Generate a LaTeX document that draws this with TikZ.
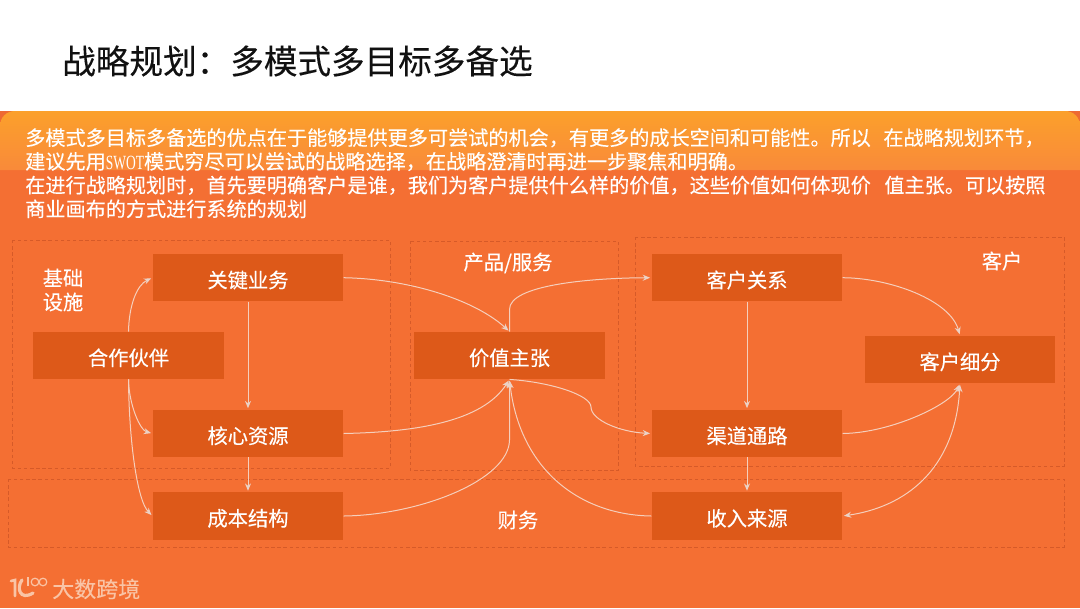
\documentclass[tikz,border=0pt]{standalone}
\usepackage{fontspec}
\setmainfont{Noto Sans CJK SC}[FakeBold=0.2]
\newfontfamily\swotfont[FakeStretch=0.67]{Liberation Serif}
\usetikzlibrary{arrows.meta}
\definecolor{bgorange}{HTML}{F46F33}
\definecolor{cornerorange}{HTML}{EE6A32}
\definecolor{topgrad}{HTML}{FBA02B}
\definecolor{botgrad}{HTML}{F98A3A}
\definecolor{boxfill}{HTML}{DD5919}
\definecolor{dashcol}{HTML}{D65A28}
\definecolor{linkcol}{HTML}{F5CFBC}
\definecolor{tipcol}{HTML}{EBD2C6}
\definecolor{logocol}{HTML}{F9C4A6}
\definecolor{titlecol}{HTML}{111111}
\tikzset{
  stagebox/.style={fill=boxfill,draw=none,minimum width=143pt,minimum height=35.5pt,inner sep=0pt,text=white,font=\fontsize{15.2}{18}\selectfont,text height=15pt,text depth=0pt},
  grouparea/.style={draw=dashcol,dashed,dash pattern=on 2.6pt off 2pt,line width=0.5pt,fill=none},
  labeltext/.style={text=white,font=\fontsize{15.2}{18}\selectfont,inner sep=0pt},
  link/.style={draw=linkcol,line width=0.75pt,shorten >=1pt,-{Stealth[length=5.5pt,width=4.5pt,color=tipcol]}},
  both/.style={draw=linkcol,line width=0.75pt,shorten >=1pt,shorten <=1pt,{Stealth[length=5.5pt,width=4.5pt,color=tipcol]}-{Stealth[length=5.5pt,width=4.5pt,color=tipcol]}},
}
\begin{document}
\begin{tikzpicture}[x=0.75pt,y=-0.75pt]
\useasboundingbox (0,0) rectangle (1080,608);
% backgrounds
\fill[white] (0,0) rectangle (1080,111);
\fill[bgorange] (0,111) rectangle (1080,608);
\fill[cornerorange] (0,111) rectangle (1080,170);
\shade[top color=topgrad,bottom color=botgrad] (0,170) [rounded corners=11pt] -- (0,111) -- (1080,111) [sharp corners] -- (1080,170) -- cycle;
% title
\node[anchor=west,inner sep=0pt,text=titlecol,font=\fontsize{25.2}{30}\selectfont] (title) at (62,61) {战略规划：多模式多目标多备选};
% intro
\node[anchor=north west,inner sep=0pt,text=white,align=left,font=\fontsize{15.1}{17.8}\selectfont] (intro) at (25,128) {多模式多目标多备选的优点在于能够提供更多可尝试的机会，有更多的成长空间和可能性。所以\hspace{0.4em} 在战略规划环节，\\建议先用{\swotfont SWOT}模式穷尽可以尝试的战略选择，在战略澄清时再进一步聚焦和明确。\\在进行战略规划时，首先要明确客户是谁，我们为客户提供什么样的价值，这些价值如何体现价\hspace{0.45em} 值主张。可以按照\\商业画布的方式进行系统的规划};
% groups
\draw[grouparea] (12.7,240) rectangle (390,468);
\draw[grouparea] (410,241) rectangle (618.5,470);
\draw[grouparea] (635,237) rectangle (1064,466);
\draw[grouparea] (8,479) rectangle (1064,547);
% boxes
\node[stagebox] (gj) at (248,277.7) {关键业务};
\node[stagebox] (hz) at (128.5,355.5) {合作伙伴};
\node[stagebox] (hx) at (248,433.5) {核心资源};
\node[stagebox] (cb) at (248,516) {成本结构};
\node[stagebox] (jz) at (509.5,355.5) {价值主张};
\node[stagebox] (kg) at (747,277.7) {客户关系};
\node[stagebox] (qd) at (747,433.5) {渠道通路};
\node[stagebox] (sr) at (747,516) {收入来源};
\node[stagebox] (kx) at (960,359.5) {客户细分};
% labels
\node[labeltext,align=center] (jc) at (63,290) {基础\\设施};
\node[labeltext] (cp) at (508,263) {产品/服务};
\node[labeltext] (kh) at (1002,261) {客户};
\node[labeltext] (cw) at (518,520) {财务};
% connectors
\draw[link] (gj.east) .. controls (410,279) and (475,300) .. (jz.north);
\draw[link] (jz.north) -- ++(0,-22) .. controls (509,285) and (590,278) .. (kg.west);
\draw[link] (hx.east) .. controls (415,432) and (482,422) .. (jz.south);
\draw[link] (cb.east) .. controls (420,515) and (509,480) .. (509.5,440) -- (jz.south);
\draw[link] (jz.south) .. controls (550,382) and (591,395) .. (591,407) .. controls (591,420) and (620,432) .. (qd.west);
\draw[link] (sr.west) .. controls (580,515) and (520,470) .. (jz.south);
\draw[link] (qd.east) .. controls (890,433) and (950,405) .. (kx.south);
\draw[both] (sr.east) .. controls (905,507) and (955,470) .. (kx.south);
\draw[link] (kg.east) .. controls (890,278) and (950,300) .. (kx.north);
\draw[link] (hz.north) .. controls (129,305) and (137,285) .. (gj.west);
\draw[link] (hz.south) .. controls (129,405) and (140,430) .. (hx.west);
\draw[link] (hz.south) .. controls (129,440) and (137,500) .. (cb.west);
\draw[link] (gj.south) -- (hx.north);
\draw[link] (hx.south) -- (cb.north);
\draw[link] (kg.south) -- (qd.north);
\draw[link] (qd.south) -- (sr.north);
% logo
\draw[logocol,line width=2pt,line cap=round] (11,581) -- (15,580) -- (15,596);
\draw[logocol,line width=2.4pt,line cap=round] (22,580) .. controls (16,588) and (20,601) .. (33,593);
\draw[logocol,line width=0.9pt] (28,577) -- (28,586);
\draw[logocol,line width=0.9pt] (35,582) circle (3.8) (43,582) circle (3.8);
\node[anchor=west,inner sep=0pt,text=logocol,font=\fontsize{16.5}{20}\selectfont] (logo) at (52,589) {大数跨境};
\end{tikzpicture}
\end{document}
